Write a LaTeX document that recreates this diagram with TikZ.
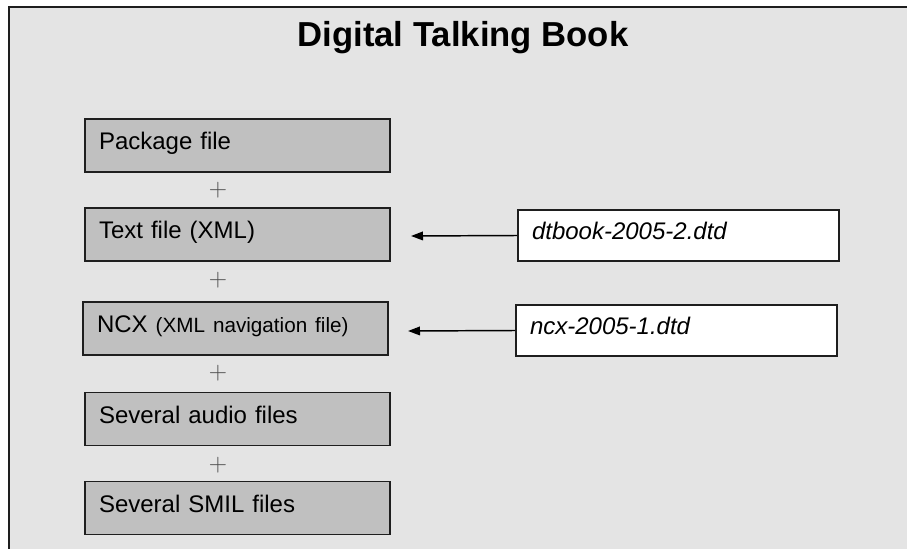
\documentclass[tikz,border=0pt]{standalone}
\usepackage{fontspec}
\setmainfont{Liberation Sans}
\newfontfamily\plusfont{Latin Modern Roman}
\usetikzlibrary{arrows.meta}
\definecolor{bg}{HTML}{E4E4E4}
\definecolor{boxgray}{HTML}{C0C0C0}
\definecolor{edge}{HTML}{1E1E1E}
\tikzset{
  filebox/.style={draw=edge, line width=1.4pt, fill=boxgray, minimum width=228.75pt,
    minimum height=39.75pt, inner xsep=10.5pt, inner ysep=0pt, text width=207.75pt,
    align=left, text height=6pt, text depth=0pt, font=\fontsize{18pt}{20pt}\selectfont},
  dtdbox/.style={draw=edge, line width=1.2pt, fill=white, minimum width=240.75pt,
    minimum height=38.25pt, inner xsep=10.5pt, inner ysep=0pt, text width=219.75pt,
    align=left, text height=6pt, text depth=0pt, font=\fontsize{18pt}{20pt}\selectfont\itshape},
  plussign/.style={inner sep=0pt, text=black!70, font=\plusfont\fontsize{19pt}{20pt}\selectfont},
  linkarrow/.style={draw=black, line width=1.1pt, -{Triangle[length=9pt,width=6.5pt]}}
}
\begin{document}
\begin{tikzpicture}[x=0.75pt,y=-0.75pt]
\useasboundingbox (0,0) rectangle (907,549);
\fill[white] (0,0) rectangle (907,549);
\fill[bg] (9,7) rectangle (907,549);
\draw[edge, line width=1.8pt] (9,549) -- (9,7) -- (907,7);
\node[font=\fontsize{26pt}{30pt}\selectfont\bfseries] (title) at (463,38) {Digital Talking Book};
\node[filebox] (pkg) at (237.5,145.5) {Package file};
\node[plussign] (p1) at (218,190.5) {+};
\node[filebox] (txt) at (237.5,234.5) {Text file (XML)};
\node[plussign] (p2) at (218,280.5) {+};
\node[filebox] (ncx) at (235.5,328.5) {NCX {\fontsize{15.5pt}{18pt}\selectfont(XML navigation file)}};
\node[plussign] (p3) at (218,373.5) {+};
\node[filebox] (aud) at (237.5,419) {Several audio files};
\node[plussign] (p4) at (218,465.5) {+};
\node[filebox] (smil) at (237.5,508) {Several SMIL files};
\node[dtdbox] (dtd1) at (678.5,235.5) {dtbook-2005-2.dtd};
\node[dtdbox] (dtd2) at (676.5,330.5) {ncx-2005-1.dtd};
\coordinate (tip1) at (411,236);
\coordinate (tip2) at (408,331);
\draw[linkarrow] (dtd1.west) -- (tip1);
\draw[linkarrow] (dtd2.west) -- (tip2);
\end{tikzpicture}
\end{document}
